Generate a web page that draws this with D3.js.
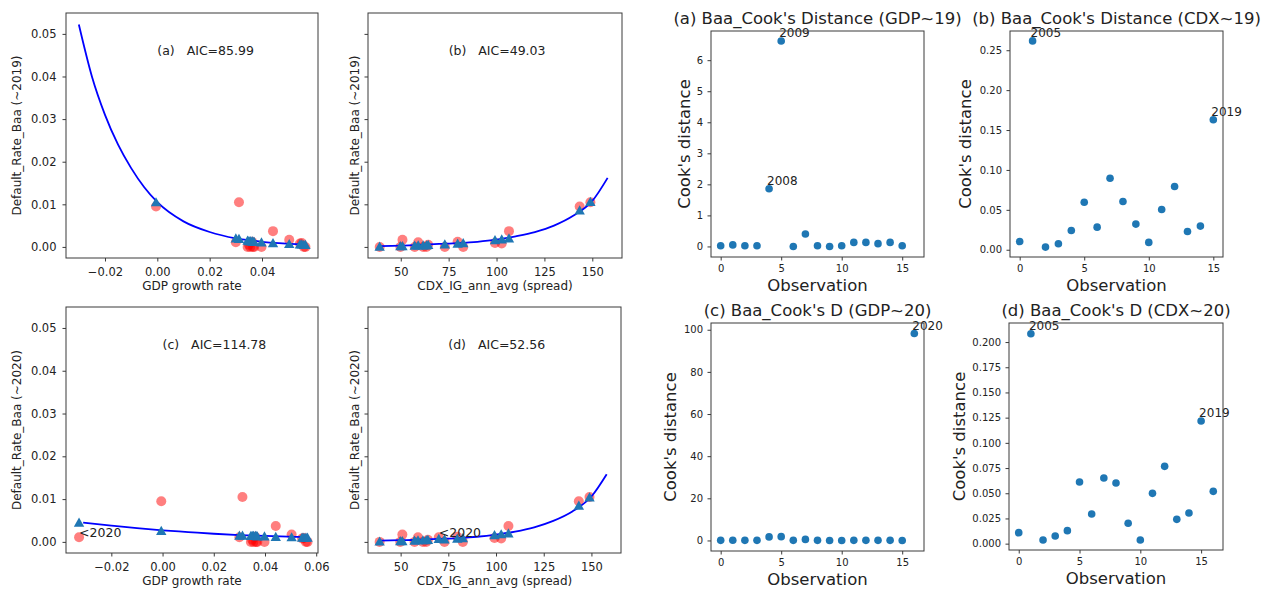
<!DOCTYPE html>
<html>
<head>
	<meta charset="utf-8">
	<title>Baa default rate - fits and Cook's distance</title>
	<script src="https://d3js.org/d3.v7.min.js"></script>
	<style>
	body { margin: 0; background: #fff; }
	svg { font-family: "DejaVu Sans", sans-serif; }
	</style>
</head>
<body>
<script>

	// ---------- data ----------
	// observed Baa default rate, one value per observation (~2019)
	let defaultRate = [0.0105, 0.0095, 0.0037, 0.0017, 0.0012, 0.0011, 0.0009, 0.0008, 0.0005, 0, 0, 0, 0, 0, 0, 0];
	let gdpGrowth   = [0.0312, -0.0005, 0.0442, 0.0504, 0.0362, 0.0300, 0.0552, 0.0545, 0.0350, 0.0355, 0.0365, 0.0398, 0.0560, 0.0566, 0.0345, 0.0370];
	let cdxSpread   = [149.0, 143.4, 106.5, 50.9, 79.7, 59.1, 99.2, 102.7, 64.3, 39.0, 49.8, 57.3, 61.7, 63.4, 73.0, 82.6];

	// the 2020 observation added in (c) and (d)
	let rate2020 = 0.0011;
	let gdp2020  = -0.0326;
	let cdx2020  = 70.0;

	// fitted values (triangles)
	let fitGdp19 = [0.0020, 0.0106, 0.0010, 0.0008, 0.0014, 0.0021, 0.0007, 0.0007, 0.0015, 0.0015, 0.0014, 0.0012, 0.0006, 0.0006, 0.0016, 0.0013];
	let fitCdx19 = [0.0107, 0.0087, 0.0021, 0.0003, 0.0009, 0.0005, 0.0017, 0.0019, 0.0006, 0.0002, 0.0003, 0.0004, 0.0005, 0.0005, 0.0007, 0.0010];
	let fitGdp20 = [0.0016, 0.0027, 0.0013, 0.0012, 0.0015, 0.0016, 0.0011, 0.0011, 0.0015, 0.0015, 0.0015, 0.0014, 0.0011, 0.0011, 0.0015, 0.0014, 0.0046];
	let fitCdx20 = [0.0105, 0.0086, 0.0021, 0.0003, 0.0009, 0.0005, 0.0017, 0.0019, 0.0006, 0.0002, 0.0003, 0.0004, 0.0005, 0.0005, 0.0007, 0.0010, 0.0008];

	// fitted curves, read at sample points
	let curveGdp19X = [-0.030, -0.025, -0.020, -0.015, -0.010, -0.005, 0.000, 0.010, 0.020, 0.030, 0.040, 0.0555];
	let curveGdp19Y = [0.0522, 0.0400, 0.0310, 0.0240, 0.0185, 0.0140, 0.0105, 0.0060, 0.0035, 0.0020, 0.0012, 0.0006];
	let curveCdx19X = [39, 50, 60, 70, 80, 90, 100, 110, 120, 130, 140, 150, 158];
	let curveCdx19Y = [0.0002, 0.0003, 0.0005, 0.0007, 0.0009, 0.0012, 0.0017, 0.0025, 0.0035, 0.0050, 0.0073, 0.0108, 0.0162];
	let curveGdp20X = [-0.031, -0.020, -0.010, 0.000, 0.010, 0.020, 0.030, 0.040, 0.0555];
	let curveGdp20Y = [0.0045, 0.0038, 0.0032, 0.0027, 0.0023, 0.0019, 0.0016, 0.0014, 0.0011];
	let curveCdx20X = [39, 50, 60, 70, 80, 90, 100, 110, 120, 130, 140, 150, 158];
	let curveCdx20Y = [0.0003, 0.0004, 0.0005, 0.0007, 0.0009, 0.0012, 0.0017, 0.0024, 0.0034, 0.0049, 0.0071, 0.0106, 0.0158];

	// AIC per model
	let aicLabels = ['(a)   AIC=85.99', '(b)   AIC=49.03', '(c)   AIC=114.78', '(d)   AIC=52.56'];

	// Cook's distance per observation
	let cookGdp19 = [0.02, 0.05, 0.02, 0.02, 1.86, 6.62, 0.00, 0.40, 0.02, 0.00, 0.02, 0.13, 0.13, 0.09, 0.13, 0.02];
	let cookCdx19 = [0.0104, 0.2617, 0.0033, 0.0075, 0.0242, 0.0596, 0.0283, 0.0896, 0.0604, 0.0321, 0.0092, 0.0504, 0.0792, 0.0229, 0.0296, 0.1629];
	let cookGdp20 = [0.05, 0.1, 0.05, 0.05, 1.7, 1.8, 0.05, 0.5, 0.05, 0.0, 0.0, 0.05, 0.05, 0.05, 0.05, 0.0, 98.2];
	let cookCdx20 = [0.0109, 0.2083, 0.0036, 0.0076, 0.0129, 0.0612, 0.0294, 0.0651, 0.0602, 0.0202, 0.0036, 0.0499, 0.0767, 0.0241, 0.0304, 0.1217, 0.0519];

	// labelled observations
	let cookNotesGdp19 = [[4, '2008'], [5, '2009']];
	let cookNotesCdx19 = [[1, '2005'], [15, '2019']];
	let cookNotesGdp20 = [[16, '2020']];
	let cookNotesCdx20 = [[1, '2005'], [15, '2019']];

	// tick values
	let rateTicks = [0, 0.01, 0.02, 0.03, 0.04, 0.05];
	let gdpTicks19 = [-0.02, 0, 0.02, 0.04];
	let gdpTicks20 = [-0.02, 0, 0.02, 0.04, 0.06];
	let cdxTicks = [50, 75, 100, 125, 150];
	let obsTicks = [0, 5, 10, 15];
	let cookTicksGdp19 = [0, 1, 2, 3, 4, 5, 6];
	let cookTicksCdx19 = [0, 0.05, 0.10, 0.15, 0.20, 0.25];
	let cookTicksGdp20 = [0, 20, 40, 60, 80, 100];
	let cookTicksCdx20 = [0, 0.025, 0.05, 0.075, 0.1, 0.125, 0.15, 0.175, 0.2];

	// ---------- chart ----------
	let W = 1271, H = 594;
	let textColor = '#222';
	let spineColor = '#3a3a3a';
	let tab10Blue = '#1f77b4';
	let leftFont = 11.5;

	let svg = d3.select('body').append('svg')
				.attr('width', W)
				.attr('height', H);

	let rateDomain = [-0.0026, 0.0549];

	// style one axis group in the matplotlib way
	function styleAxis(g, fontSize) {
		g.attr('font-family', '"DejaVu Sans", sans-serif')
		 .attr('font-size', fontSize);
		g.select('.domain').remove();
		g.selectAll('line').attr('stroke', spineColor);
		g.selectAll('text').attr('fill', textColor);
	}

	function zip(a, b) {
		return a.map(function(d, i) { return [d, b[i]]; });
	}

	// left half: scatter + fitted values + fitted curve
	function drawFit(p) {
		let x = d3.scaleLinear().domain(p.xDomain).range([p.x0, p.x1]);
		let y = d3.scaleLinear().domain(rateDomain).range([p.y1, p.y0]);
		let g = svg.append('g');

		let xa = g.append('g').attr('transform', 'translate(0,' + p.y1 + ')')
				.call(d3.axisBottom(x).tickValues(p.xTicks).tickFormat(p.xFormat).tickSize(3.5).tickPadding(6.2));
		styleAxis(xa, leftFont);

		let ya = g.append('g').attr('transform', 'translate(' + p.x0 + ',0)')
				.call(d3.axisLeft(y).tickValues(rateTicks)
					.tickFormat(p.yTickLabels ? d3.format('.2f') : function() { return ''; })
					.tickSize(3.5).tickPadding(6));
		styleAxis(ya, leftFont);

		// observed points
		g.selectAll('circle.obs').data(zip(p.xs, p.ys)).enter().append('circle')
			.attr('class', 'obs')
			.attr('cx', function(d) { return x(d[0]); })
			.attr('cy', function(d) { return y(d[1]); })
			.attr('r', 5)
			.attr('fill', 'red')
			.attr('fill-opacity', 0.5);

		// fitted curve
		let line = d3.line()
			.x(function(d) { return x(d[0]); })
			.y(function(d) { return y(d[1]); })
			.curve(d3.curveMonotoneX);
		g.append('path')
			.datum(zip(p.curveX, p.curveY))
			.attr('d', line)
			.attr('fill', 'none')
			.attr('stroke', '#0000ff')
			.attr('stroke-width', 1.8);

		// fitted values (triangle centred on its box, like matplotlib '^')
		g.selectAll('path.fit').data(zip(p.xs, p.fit)).enter().append('path')
			.attr('class', 'fit')
			.attr('d', 'M0,-4.6L5.2,4.6L-5.2,4.6Z')
			.attr('transform', function(d) { return 'translate(' + x(d[0]) + ',' + y(d[1]) + ')'; })
			.attr('fill', tab10Blue);

		// annotation of the 2020 point
		if (p.note) {
			g.append('text')
				.attr('x', x(p.note[0]))
				.attr('y', y(p.note[1]))
				.attr('font-size', 12.5)
				.attr('fill', textColor)
				.text(p.note[2]);
		}

		// AIC text
		g.append('text')
			.attr('x', x(p.aicAt[0]))
			.attr('y', y(p.aicAt[1]))
			.attr('font-size', 12.5)
			.attr('fill', textColor)
			.style('white-space', 'pre')
			.text(p.aic);

		// frame
		g.append('rect')
			.attr('x', p.x0).attr('y', p.y0)
			.attr('width', p.x1 - p.x0).attr('height', p.y1 - p.y0)
			.attr('fill', 'none')
			.attr('stroke', spineColor)
			.attr('stroke-width', 1);

		// axis labels
		g.append('text')
			.attr('x', (p.x0 + p.x1) / 2)
			.attr('y', p.y1 + 32)
			.attr('text-anchor', 'middle')
			.attr('font-size', 12)
			.attr('fill', textColor)
			.text(p.xLabel);

		g.append('text')
			.attr('transform', 'translate(' + p.yLabelX + ',' + ((p.y0 + p.y1) / 2) + ') rotate(-90)')
			.attr('text-anchor', 'middle')
			.attr('dominant-baseline', 'central')
			.attr('font-size', 12)
			.attr('fill', textColor)
			.text(p.yLabel);
	}

	// right half: Cook's distance per observation
	function drawCook(p) {
		let x = d3.scaleLinear().domain(p.xDomain).range([p.x0, p.x1]);
		let y = d3.scaleLinear().domain(p.yDomain).range([p.y1, p.y0]);
		let g = svg.append('g');

		let xa = g.append('g').attr('transform', 'translate(0,' + p.y1 + ')')
				.call(d3.axisBottom(x).tickValues(obsTicks).tickFormat(d3.format('d')).tickSize(3.5).tickPadding(4.8));
		styleAxis(xa, 10);

		let ya = g.append('g').attr('transform', 'translate(' + p.x0 + ',0)')
				.call(d3.axisLeft(y).tickValues(p.yTicks).tickFormat(p.yFormat).tickSize(3.5).tickPadding(4.5));
		styleAxis(ya, 10);

		g.selectAll('circle.cook').data(p.values).enter().append('circle')
			.attr('class', 'cook')
			.attr('cx', function(d, i) { return x(i); })
			.attr('cy', function(d) { return y(d); })
			.attr('r', 3.8)
			.attr('fill', tab10Blue);

		g.selectAll('text.note').data(p.notes).enter().append('text')
			.attr('class', 'note')
			.attr('x', function(d) { return x(d[0]) - 2; })
			.attr('y', function(d) { return y(p.values[d[0]]) - 3.5; })
			.attr('font-size', 12)
			.attr('fill', textColor)
			.text(function(d) { return d[1]; });

		g.append('rect')
			.attr('x', p.x0).attr('y', p.y0)
			.attr('width', p.x1 - p.x0).attr('height', p.y1 - p.y0)
			.attr('fill', 'none')
			.attr('stroke', spineColor)
			.attr('stroke-width', 1);

		g.append('text')
			.attr('x', (p.x0 + p.x1) / 2)
			.attr('y', p.y0 - 6.7)
			.attr('text-anchor', 'middle')
			.attr('font-size', 16.5)
			.attr('fill', textColor)
			.text(p.title);

		g.append('text')
			.attr('x', (p.x0 + p.x1) / 2)
			.attr('y', p.y1 + 33.5)
			.attr('text-anchor', 'middle')
			.attr('font-size', 16.5)
			.attr('fill', textColor)
			.text('Observation');

		g.append('text')
			.attr('transform', 'translate(' + p.yLabelX + ',' + ((p.y0 + p.y1) / 2) + ') rotate(-90)')
			.attr('text-anchor', 'middle')
			.attr('dominant-baseline', 'central')
			.attr('font-size', 16.5)
			.attr('fill', textColor)
			.text("Cook's distance");
	}

	let fmt2 = d3.format('.2f');
	let fmtInt = d3.format('d');

	// (a) GDP ~2019
	drawFit({
		x0: 66, x1: 318, y0: 13, y1: 258,
		xDomain: [-0.0349, 0.0614], xTicks: gdpTicks19, xFormat: fmt2,
		xs: gdpGrowth, ys: defaultRate, fit: fitGdp19,
		curveX: curveGdp19X, curveY: curveGdp19Y,
		aic: aicLabels[0], aicAt: [0, 0.045],
		yTickLabels: true, yLabelX: 17,
		xLabel: 'GDP growth rate', yLabel: 'Default_Rate_Baa (~2019)'
	});

	// (b) CDX ~2019
	drawFit({
		x0: 368, x1: 622, y0: 13, y1: 258,
		xDomain: [32.9, 165.5], xTicks: cdxTicks, xFormat: fmtInt,
		xs: cdxSpread, ys: defaultRate, fit: fitCdx19,
		curveX: curveCdx19X, curveY: curveCdx19Y,
		aic: aicLabels[1], aicAt: [75, 0.045],
		yTickLabels: false, yLabelX: 355,
		xLabel: 'CDX_IG_ann_avg (spread)', yLabel: 'Default_Rate_Baa (~2019)'
	});

	// (c) GDP ~2020
	drawFit({
		x0: 66, x1: 318, y0: 307, y1: 553,
		xDomain: [-0.0377, 0.0607], xTicks: gdpTicks20, xFormat: fmt2,
		xs: gdpGrowth.concat([gdp2020]), ys: defaultRate.concat([rate2020]), fit: fitGdp20,
		curveX: curveGdp20X, curveY: curveGdp20Y,
		aic: aicLabels[2], aicAt: [0, 0.045],
		note: [gdp2020, rate2020, '<2020'],
		yTickLabels: true, yLabelX: 17,
		xLabel: 'GDP growth rate', yLabel: 'Default_Rate_Baa (~2020)'
	});

	// (d) CDX ~2020
	drawFit({
		x0: 368, x1: 621, y0: 307, y1: 553,
		xDomain: [32.9, 165.5], xTicks: cdxTicks, xFormat: fmtInt,
		xs: cdxSpread.concat([cdx2020]), ys: defaultRate.concat([rate2020]), fit: fitCdx20,
		curveX: curveCdx20X, curveY: curveCdx20Y,
		aic: aicLabels[3], aicAt: [75, 0.045],
		note: [cdx2020, rate2020, '<2020'],
		yTickLabels: false, yLabelX: 355,
		xLabel: 'CDX_IG_ann_avg (spread)', yLabel: 'Default_Rate_Baa (~2020)'
	});

	// Cook's distance panels
	drawCook({
		x0: 711, x1: 924, y0: 31, y1: 257,
		xDomain: [-0.8, 16.8], yDomain: [-0.34, 6.94],
		yTicks: cookTicksGdp19, yFormat: fmtInt,
		values: cookGdp19, notes: cookNotesGdp19, yLabelX: 684,
		title: "(a) Baa_Cook's Distance (GDP~19)"
	});

	drawCook({
		x0: 1010, x1: 1223, y0: 31, y1: 257,
		xDomain: [-0.75, 15.75], yDomain: [-0.0091, 0.2741],
		yTicks: cookTicksCdx19, yFormat: fmt2,
		values: cookCdx19, notes: cookNotesCdx19, yLabelX: 965,
		title: "(b) Baa_Cook's Distance (CDX~19)"
	});

	drawCook({
		x0: 711, x1: 924, y0: 323, y1: 551,
		xDomain: [-0.8, 16.8], yDomain: [-5.0, 103.2],
		yTicks: cookTicksGdp20, yFormat: fmtInt,
		values: cookGdp20, notes: cookNotesGdp20, yLabelX: 670,
		title: "(c) Baa_Cook's D (GDP~20)"
	});

	drawCook({
		x0: 1009, x1: 1223, y0: 323, y1: 550,
		xDomain: [-0.8, 16.8], yDomain: [-0.0063, 0.2189],
		yTicks: cookTicksCdx20, yFormat: d3.format('.3f'),
		values: cookCdx20, notes: cookNotesCdx20, yLabelX: 959,
		title: "(d) Baa_Cook's D (CDX~20)"
	});

</script>
</body>
</html>
